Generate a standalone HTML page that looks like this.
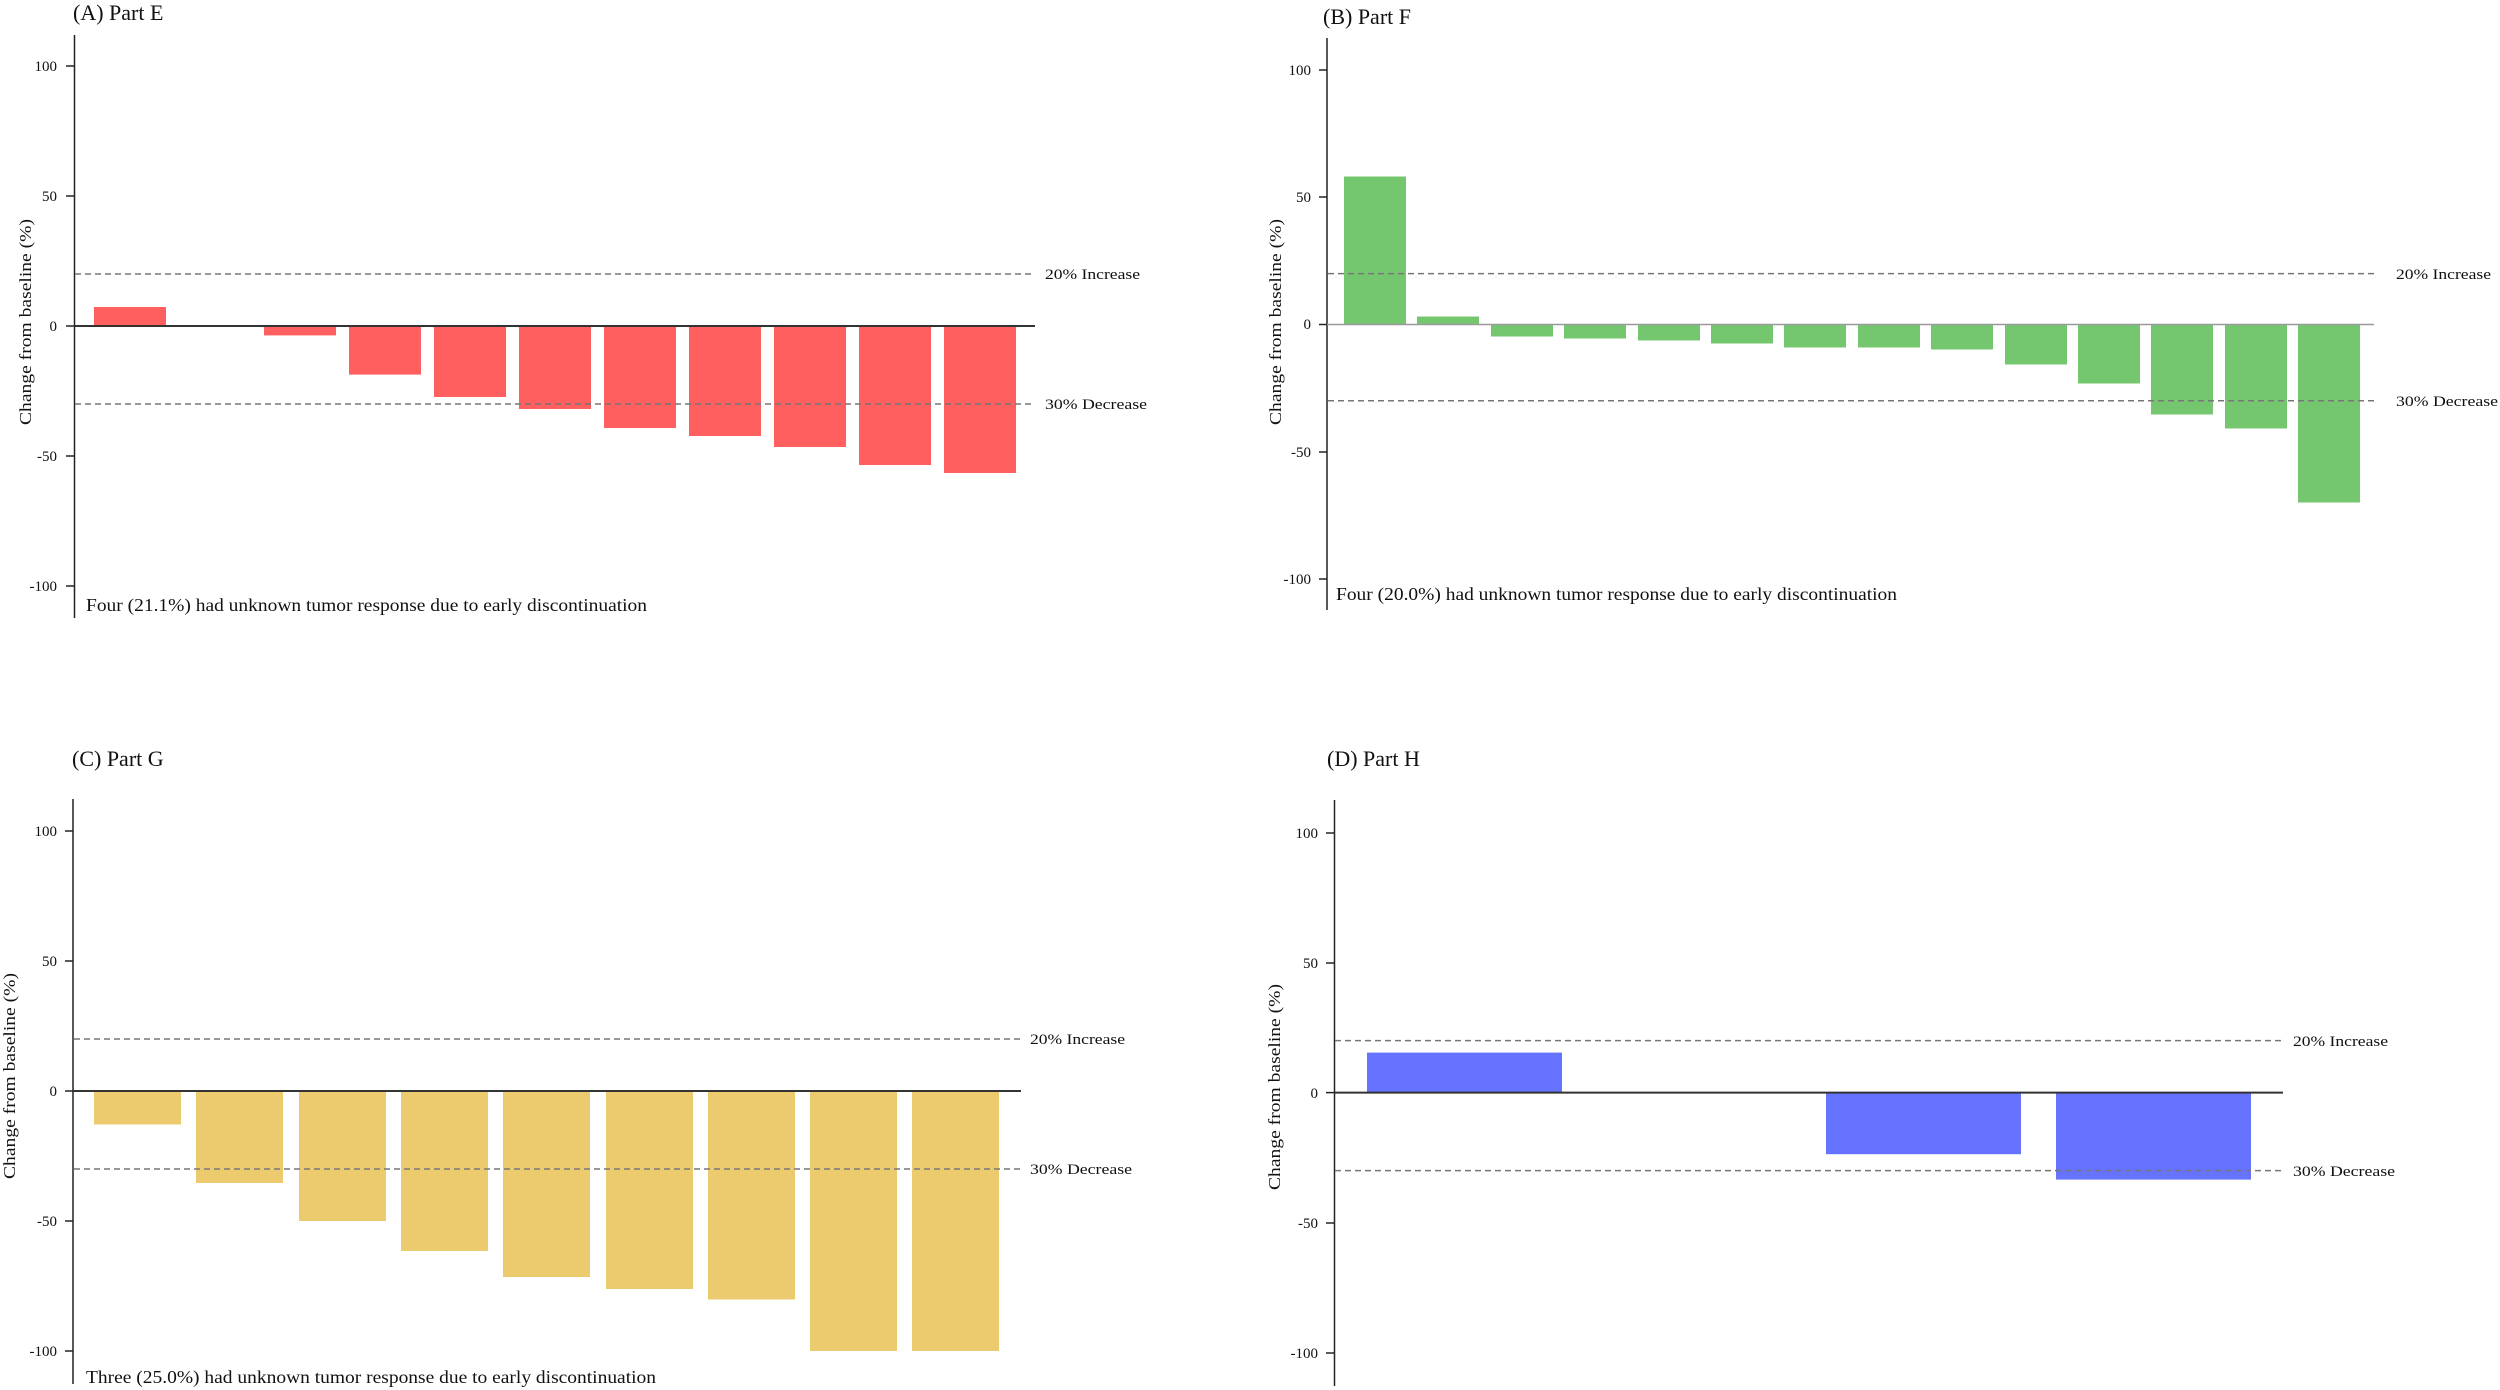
<!DOCTYPE html>
<html><head><meta charset="utf-8"><style>
html,body{margin:0;padding:0;background:#fff}
svg{display:block}
text{font-family:"Liberation Serif",serif;fill:#111}
.t{font-size:22px}
.k{font-size:15px;text-anchor:end}
.l{font-size:15px}
.n{font-size:18px}
.y{font-size:17px;text-anchor:middle}
.ax{stroke:#222;stroke-width:1.5}
.z{stroke:#333;stroke-width:2}
.d{stroke:#777;stroke-width:1.5;stroke-dasharray:6,4}
</style></head><body>
<svg width="2500" height="1390" viewBox="0 0 2500 1390" xmlns="http://www.w3.org/2000/svg">
<!-- Panel A -->
<text class="t" x="73" y="20">(A) Part E</text>
<line class="ax" x1="74.5" y1="35" x2="74.5" y2="618"/>
<g class="ax"><line x1="66" y1="66" x2="74" y2="66"/><line x1="66" y1="196" x2="74" y2="196"/><line x1="66" y1="326" x2="74" y2="326"/><line x1="66" y1="456" x2="74" y2="456"/><line x1="66" y1="586" x2="74" y2="586"/></g>
<text class="k" x="57" y="71">100</text><text class="k" x="57" y="201">50</text><text class="k" x="57" y="331">0</text><text class="k" x="57" y="461">-50</text><text class="k" x="57" y="591">-100</text>
<text class="y" transform="translate(31,322) rotate(-90)" textLength="206" lengthAdjust="spacingAndGlyphs">Change from baseline (%)</text>
<g fill="#FF5F5F">
<rect x="94" y="307" width="72" height="19"/>
<rect x="264" y="326" width="72" height="9.4"/>
<rect x="349" y="326" width="72" height="48.6"/>
<rect x="434" y="326" width="72" height="71"/>
<rect x="519" y="326" width="72" height="83"/>
<rect x="604" y="326" width="72" height="102"/>
<rect x="689" y="326" width="72" height="110"/>
<rect x="774" y="326" width="72" height="121"/>
<rect x="859" y="326" width="72" height="139"/>
<rect x="944" y="326" width="72" height="147"/>
</g>
<line class="z" x1="74.5" y1="326" x2="1035" y2="326"/>
<line class="d" x1="75" y1="274" x2="1035" y2="274"/>
<line class="d" x1="75" y1="404" x2="1035" y2="404"/>
<text class="l" x="1045" y="279" textLength="95" lengthAdjust="spacingAndGlyphs">20% Increase</text>
<text class="l" x="1045" y="409" textLength="102" lengthAdjust="spacingAndGlyphs">30% Decrease</text>
<text class="n" x="86" y="611" textLength="561" lengthAdjust="spacingAndGlyphs">Four (21.1%) had unknown tumor response due to early discontinuation</text>

<!-- Panel B -->
<text class="t" x="1323" y="24">(B) Part F</text>
<line class="ax" x1="1327" y1="38" x2="1327" y2="610"/>
<g class="ax"><line x1="1319" y1="70" x2="1327" y2="70"/><line x1="1319" y1="197" x2="1327" y2="197"/><line x1="1319" y1="324.5" x2="1327" y2="324.5"/><line x1="1319" y1="452" x2="1327" y2="452"/><line x1="1319" y1="579" x2="1327" y2="579"/></g>
<text class="k" x="1311" y="75">100</text><text class="k" x="1311" y="202">50</text><text class="k" x="1311" y="329">0</text><text class="k" x="1311" y="457">-50</text><text class="k" x="1311" y="584">-100</text>
<text class="y" transform="translate(1281,322) rotate(-90)" textLength="206" lengthAdjust="spacingAndGlyphs">Change from baseline (%)</text>
<g fill="#74C76F">
<rect x="1344" y="176.5" width="62" height="148"/>
<rect x="1417" y="316.5" width="62" height="8"/>
<rect x="1491" y="324.5" width="62" height="12"/>
<rect x="1564" y="324.5" width="62" height="14"/>
<rect x="1638" y="324.5" width="62" height="16"/>
<rect x="1711" y="324.5" width="62" height="19"/>
<rect x="1784" y="324.5" width="62" height="23"/>
<rect x="1858" y="324.5" width="62" height="23"/>
<rect x="1931" y="324.5" width="62" height="25"/>
<rect x="2005" y="324.5" width="62" height="40"/>
<rect x="2078" y="324.5" width="62" height="59"/>
<rect x="2151" y="324.5" width="62" height="90"/>
<rect x="2225" y="324.5" width="62" height="104"/>
<rect x="2298" y="324.5" width="62" height="178"/>
</g>
<line x1="1327" y1="324.5" x2="2374" y2="324.5" stroke="#999" stroke-width="1.5"/>
<line class="d" x1="1328" y1="273.6" x2="2374" y2="273.6"/>
<line class="d" x1="1328" y1="400.8" x2="2374" y2="400.8"/>
<text class="l" x="2396" y="279" textLength="95" lengthAdjust="spacingAndGlyphs">20% Increase</text>
<text class="l" x="2396" y="406" textLength="102" lengthAdjust="spacingAndGlyphs">30% Decrease</text>
<text class="n" x="1336" y="600" textLength="561" lengthAdjust="spacingAndGlyphs">Four (20.0%) had unknown tumor response due to early discontinuation</text>

<!-- Panel C -->
<text class="t" x="72" y="766">(C) Part G</text>
<line class="ax" x1="73" y1="799" x2="73" y2="1384"/>
<g class="ax"><line x1="65" y1="831" x2="73" y2="831"/><line x1="65" y1="961" x2="73" y2="961"/><line x1="65" y1="1091" x2="73" y2="1091"/><line x1="65" y1="1221" x2="73" y2="1221"/><line x1="65" y1="1351" x2="73" y2="1351"/></g>
<text class="k" x="57" y="836">100</text><text class="k" x="57" y="966">50</text><text class="k" x="57" y="1096">0</text><text class="k" x="57" y="1226">-50</text><text class="k" x="57" y="1356">-100</text>
<text class="y" transform="translate(15,1076) rotate(-90)" textLength="206" lengthAdjust="spacingAndGlyphs">Change from baseline (%)</text>
<g fill="#ECCB6E">
<rect x="94" y="1091" width="87" height="33.5"/>
<rect x="196" y="1091" width="87" height="92"/>
<rect x="299" y="1091" width="87" height="130"/>
<rect x="401" y="1091" width="87" height="160"/>
<rect x="503" y="1091" width="87" height="186"/>
<rect x="606" y="1091" width="87" height="198"/>
<rect x="708" y="1091" width="87" height="208.5"/>
<rect x="810" y="1091" width="87" height="260"/>
<rect x="912" y="1091" width="87" height="260"/>
</g>
<line class="z" x1="73" y1="1091" x2="1021" y2="1091"/>
<line class="d" x1="74" y1="1039" x2="1021" y2="1039"/>
<line class="d" x1="74" y1="1169" x2="1021" y2="1169"/>
<text class="l" x="1030" y="1044" textLength="95" lengthAdjust="spacingAndGlyphs">20% Increase</text>
<text class="l" x="1030" y="1174" textLength="102" lengthAdjust="spacingAndGlyphs">30% Decrease</text>
<text class="n" x="86" y="1383" textLength="570" lengthAdjust="spacingAndGlyphs">Three (25.0%) had unknown tumor response due to early discontinuation</text>

<!-- Panel D -->
<text class="t" x="1327" y="766">(D) Part H</text>
<line class="ax" x1="1334.5" y1="800" x2="1334.5" y2="1386"/>
<g class="ax"><line x1="1326" y1="833" x2="1334" y2="833"/><line x1="1326" y1="963" x2="1334" y2="963"/><line x1="1326" y1="1092.6" x2="1334" y2="1092.6"/><line x1="1326" y1="1223" x2="1334" y2="1223"/><line x1="1326" y1="1353" x2="1334" y2="1353"/></g>
<text class="k" x="1318" y="838">100</text><text class="k" x="1318" y="968">50</text><text class="k" x="1318" y="1098">0</text><text class="k" x="1318" y="1228">-50</text><text class="k" x="1318" y="1358">-100</text>
<text class="y" transform="translate(1280,1087) rotate(-90)" textLength="206" lengthAdjust="spacingAndGlyphs">Change from baseline (%)</text>
<g fill="#6673FF">
<rect x="1367" y="1052.6" width="195" height="40"/>
<rect x="1826" y="1092.6" width="195" height="61.6"/>
<rect x="2056" y="1092.6" width="195" height="87"/>
</g>
<line class="z" x1="1334.5" y1="1092.6" x2="2283" y2="1092.6"/>
<line class="d" x1="1335" y1="1040.6" x2="2283" y2="1040.6"/>
<line class="d" x1="1335" y1="1170.6" x2="2283" y2="1170.6"/>
<text class="l" x="2293" y="1046" textLength="95" lengthAdjust="spacingAndGlyphs">20% Increase</text>
<text class="l" x="2293" y="1176" textLength="102" lengthAdjust="spacingAndGlyphs">30% Decrease</text>
</svg>
</body></html>
